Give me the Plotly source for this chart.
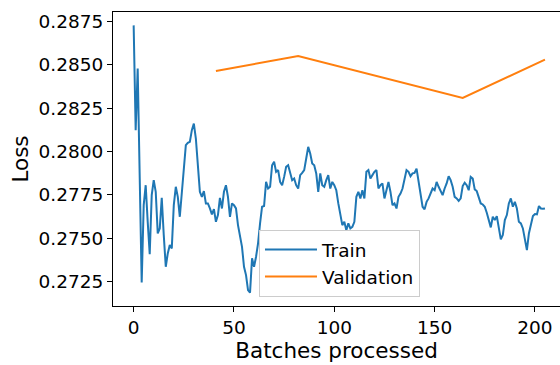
import plotly.graph_objects as go

# Training loss recorded after every batch
train_batches = list(range(206))
train_loss = [
    0.28727, 0.28123, 0.28478, 0.27860, 0.27245, 0.27691, 0.27806, 0.27595, 0.27408, 0.27749,
    0.27835, 0.27768, 0.27528, 0.27557, 0.27733, 0.27519, 0.27336, 0.27413, 0.27461, 0.27442,
    0.27691, 0.27797, 0.27739, 0.27624, 0.27768, 0.27912, 0.28037, 0.28050, 0.28056, 0.28123,
    0.28161, 0.28075, 0.27902, 0.27768, 0.27739, 0.27772, 0.27701, 0.27701, 0.27672, 0.27638,
    0.27668, 0.27595, 0.27634, 0.27733, 0.27672, 0.27768, 0.27806, 0.27739, 0.27624, 0.27701,
    0.27691, 0.27672, 0.27576, 0.27499, 0.27451, 0.27336, 0.27288, 0.27202, 0.27187, 0.27385,
    0.27336, 0.27394, 0.27471, 0.27586, 0.27682, 0.27686, 0.27825, 0.27787, 0.27797, 0.27921,
    0.27941, 0.27883, 0.27893, 0.27825, 0.27806, 0.27854, 0.27912, 0.27921, 0.27874, 0.27835,
    0.27845, 0.27806, 0.27787, 0.27864, 0.27877, 0.27893, 0.27960, 0.28027, 0.27989, 0.27931,
    0.27921, 0.27874, 0.27768, 0.27874, 0.27806, 0.27797, 0.27835, 0.27864, 0.27787, 0.27825,
    0.27806, 0.27777, 0.27701, 0.27643, 0.27576, 0.27595, 0.27547, 0.27586, 0.27557, 0.27566,
    0.27595, 0.27739, 0.27768, 0.27730, 0.27777, 0.27730, 0.27883, 0.27893, 0.27845, 0.27864,
    0.27883, 0.27893, 0.27787, 0.27806, 0.27816, 0.27730, 0.27787, 0.27825, 0.27768, 0.27691,
    0.27701, 0.27672, 0.27739, 0.27758, 0.27787, 0.27835, 0.27893, 0.27883, 0.27858, 0.27874,
    0.27877, 0.27902, 0.27835, 0.27758, 0.27682, 0.27667, 0.27710, 0.27730, 0.27758, 0.27787,
    0.27777, 0.27825, 0.27797, 0.27777, 0.27749, 0.27787, 0.27816, 0.27858, 0.27835, 0.27797,
    0.27739, 0.27730, 0.27716, 0.27730, 0.27801, 0.27820, 0.27806, 0.27777, 0.27854, 0.27845,
    0.27782, 0.27772, 0.27736, 0.27701, 0.27695, 0.27682, 0.27647, 0.27605, 0.27563, 0.27624,
    0.27605, 0.27628, 0.27557, 0.27494, 0.27519, 0.27605, 0.27634, 0.27701, 0.27730, 0.27682,
    0.27710, 0.27672, 0.27595, 0.27586, 0.27557, 0.27499, 0.27432, 0.27528, 0.27586, 0.27628,
    0.27640, 0.27638, 0.27686, 0.27672, 0.27670, 0.27672,
]

# Validation loss evaluated periodically
val_batches = [41, 82, 164, 205]
val_loss = [0.28464, 0.28550, 0.28309, 0.28530]

y_ticks = [0.2725, 0.2750, 0.2775, 0.2800, 0.2825, 0.2850, 0.2875]
x_ticks = [0, 50, 100, 150, 200]

FONT = "DejaVu Sans"

fig = go.Figure()
fig.add_trace(go.Scatter(
    x=train_batches, y=train_loss, mode="lines", name="Train",
    line=dict(color="#1f77b4", width=2),
))
fig.add_trace(go.Scatter(
    x=val_batches, y=val_loss, mode="lines", name="Validation",
    line=dict(color="#ff7f0e", width=2),
))

axis_common = dict(
    showgrid=False, zeroline=False, showline=True, linecolor="black", linewidth=1,
    ticks="outside", ticklen=5, tickwidth=1, tickcolor="black",
    tickfont=dict(family=FONT, size=18.5, color="black"),
)

fig.update_layout(
    width=560, height=365,
    margin=dict(l=113, r=0, t=12, b=59),
    paper_bgcolor="white", plot_bgcolor="white",
    font=dict(family=FONT, color="black"),
    xaxis=dict(
        range=[-10.3, 212.5], tickvals=x_ticks, mirror=True,
        title=dict(text="Batches processed", font=dict(family=FONT, size=21.5), standoff=4),
        automargin=False, **axis_common,
    ),
    yaxis=dict(
        range=[0.27110, 0.28804], tickvals=y_ticks, tickformat=".4f", mirror=False,
        title=dict(text="Loss", font=dict(family=FONT, size=21.5), standoff=4),
        automargin=False, **axis_common,
    ),
    legend=dict(
        x=0.3266, y=0.031, xanchor="left", yanchor="bottom",
        itemwidth=52,
        bgcolor="rgba(255,255,255,0.8)", bordercolor="#cccccc", borderwidth=1,
        font=dict(family=FONT, size=18.5, color="black"),
    ),
    showlegend=True,
)

fig.write_html("out.html")
